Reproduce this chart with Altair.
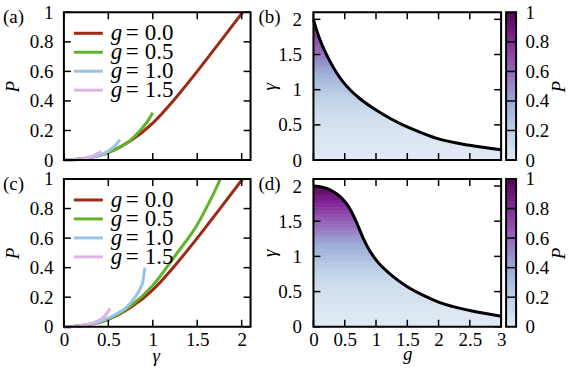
import altair as alt
import pandas as pd

FONT = "Liberation Serif"
FS = 19

# ---------------- data ----------------
gamma_ticks = [0, 0.5, 1, 1.5, 2]
p_ticks = [0, 0.2, 0.4, 0.6, 0.8, 1]
g_ticks = [0, 0.5, 1, 1.5, 2, 2.5, 3]
series = ["0.0", "0.5", "1.0", "1.5"]
series_colors = ["#9c2a16", "#62b22c", "#97c3e6", "#dcb4e3"]

# panel (a): P vs gamma
a_red_gamma = [0, 0.1, 0.25, 0.5, 0.75, 1.0, 1.25, 1.5, 1.75, 2.01]
a_red_P = [0, 0.002, 0.012, 0.05, 0.13, 0.25, 0.415, 0.60, 0.795, 1.0]
a_green_gamma = [0, 0.1, 0.25, 0.5, 0.75, 0.85, 0.95, 1.0]
a_green_P = [0, 0.002, 0.012, 0.052, 0.135, 0.195, 0.27, 0.32]
a_blue_gamma = [0, 0.1, 0.2, 0.35, 0.5, 0.58, 0.63]
a_blue_P = [0, 0.002, 0.006, 0.022, 0.062, 0.10, 0.138]
a_pink_gamma = [0, 0.15, 0.25, 0.35, 0.42]
a_pink_P = [0, 0.004, 0.015, 0.035, 0.06]

# panel (c): P vs gamma
c_red_gamma = [0, 0.1, 0.25, 0.5, 0.75, 1.0, 1.25, 1.5, 1.75, 2.01]
c_red_P = [0, 0.002, 0.012, 0.05, 0.13, 0.25, 0.415, 0.60, 0.795, 1.0]
c_green_gamma = [0, 0.1, 0.25, 0.5, 0.75, 1.0, 1.25, 1.5, 1.65, 1.76]
c_green_P = [0, 0.002, 0.012, 0.052, 0.14, 0.28, 0.48, 0.69, 0.86, 1.0]
c_blue_gamma = [0, 0.1, 0.25, 0.5, 0.6, 0.7, 0.8, 0.86, 0.89, 0.91]
c_blue_P = [0, 0.002, 0.012, 0.058, 0.09, 0.13, 0.20, 0.26, 0.31, 0.40]
c_pink_gamma = [0, 0.15, 0.3, 0.4, 0.47, 0.52]
c_pink_P = [0, 0.004, 0.02, 0.045, 0.08, 0.125]

# panel (b): boundary gamma(g)
b_bound_g = [0, 0.05, 0.1, 0.18, 0.26, 0.37, 0.47, 0.6, 0.74, 1.0, 1.25, 1.5, 1.75, 2.0, 2.5, 3.0]
b_bound_gamma = [2.0, 1.85, 1.72, 1.55, 1.41, 1.24, 1.115, 0.985, 0.875, 0.71, 0.58, 0.47, 0.38, 0.30, 0.21, 0.145]
# panel (d): boundary gamma(g)
d_bound_g = [0, 0.1, 0.2, 0.3, 0.4, 0.5, 0.6, 0.7, 0.8, 0.9, 1.0, 1.25, 1.5, 1.75, 2.0, 2.5, 3.0]
d_bound_gamma = [2.0, 1.99, 1.97, 1.93, 1.87, 1.78, 1.65, 1.46, 1.25, 1.08, 0.95, 0.73, 0.57, 0.45, 0.35, 0.23, 0.15]

# heat-map levels (lower edge of each gamma strip) and P read per strip
strip_gamma = [round(0.05 * k, 2) for k in range(42)]
b_strip_P = [0.00, 0.00, 0.01, 0.01, 0.02, 0.02, 0.03, 0.04, 0.05, 0.06,
             0.07, 0.08, 0.09, 0.11, 0.12, 0.14, 0.16, 0.18, 0.21, 0.23,
             0.26, 0.28, 0.31, 0.34, 0.37, 0.40, 0.43, 0.46, 0.50, 0.53,
             0.57, 0.60, 0.63, 0.66, 0.69, 0.72, 0.75, 0.78, 0.81, 0.84,
             0.87, 0.90]
d_strip_P = [0.00, 0.00, 0.01, 0.01, 0.02, 0.03, 0.04, 0.05, 0.06, 0.07,
             0.08, 0.10, 0.11, 0.13, 0.15, 0.17, 0.20, 0.22, 0.25, 0.28,
             0.31, 0.34, 0.37, 0.40, 0.43, 0.46, 0.50, 0.53, 0.57, 0.60,
             0.63, 0.67, 0.71, 0.75, 0.79, 0.82, 0.86, 0.89, 0.92, 0.95,
             0.97, 0.99]

cbar_levels = [k / 50 for k in range(50)]
cmap_stops = [0, 0.2, 0.4, 0.6, 0.8, 1.0]
cmap_colors = ["#dfe9f3", "#bccfe6", "#9aa9d5", "#9466b8", "#85289a", "#550052"]

# ---------------- layout ----------------
WL, WL_TOT, WR, WCB, H = 187, 245, 188, 10, 148
TL = 7  # tick length

cscale = alt.Scale(domain=cmap_stops, range=cmap_colors, interpolate="rgb")
line_scale = alt.Scale(domain=series, range=series_colors)


def txt(text, x, y, style="normal", size=FS, align="left"):
    return alt.Chart(pd.DataFrame({"t": [text]})).mark_text(
        font=FONT, fontSize=size, fontStyle=style, align=align,
        baseline="middle", color="black"
    ).encode(text="t:N", x=alt.value(x), y=alt.value(y))


def frame(W):
    return alt.Chart(pd.DataFrame({"k": [0]})).mark_rect(
        fill="white", fillOpacity=0, stroke="black", strokeWidth=2
    ).encode(x=alt.value(0), x2=alt.value(W), y=alt.value(0), y2=alt.value(H))


def ticks(xvals, yvals, xsc, ysc, axx, axy, W):
    dx = pd.DataFrame({"v": xvals})
    dy = pd.DataFrame({"v": yvals})
    r = dict(color="black", strokeWidth=1.5)
    X = alt.X("v:Q", scale=xsc, axis=axx)
    Y = alt.Y("v:Q", scale=ysc, axis=axy)
    return [
        alt.Chart(dx).mark_rule(**r).encode(x=X, y=alt.value(H), y2=alt.value(H - TL)),
        alt.Chart(dx).mark_rule(**r).encode(x=X, y=alt.value(0), y2=alt.value(TL)),
        alt.Chart(dy).mark_rule(**r).encode(y=Y, x=alt.value(0), x2=alt.value(TL)),
        alt.Chart(dy).mark_rule(**r).encode(y=Y, x=alt.value(W - TL), x2=alt.value(W)),
    ]


def curves_df(parts):
    rows = []
    for lab, xs, ys in parts:
        for i, (x, y) in enumerate(zip(xs, ys)):
            rows.append({"g": lab, "gamma": x, "P": y, "i": i})
    return pd.DataFrame(rows)


AXF = dict(labelFont=FONT, labelFontSize=FS, labelColor="black",
           titleFont=FONT, titleFontSize=FS, titleFontWeight="normal",
           titleColor="black", titleFontStyle="italic")


def left_panel(df, tag, bottom):
    xs = alt.Scale(domain=[0, 2.1], range=[0, WL], nice=False, zero=False)
    ys = alt.Scale(domain=[0, 1], nice=False, zero=False)
    if bottom:
        axx = alt.Axis(values=gamma_ticks, format="~g", ticks=False, domain=False,
                       grid=False, labelPadding=4, labelFlush=False, labelOverlap=False,
                       title="γ", titleX=92, titleY=35,
                       titleBaseline="alphabetic", titleAlign="center", **AXF)
    else:
        axx = None
    axy = alt.Axis(values=p_ticks, format="~g", ticks=False, domain=False, grid=False,
                   labelPadding=11, labelFlush=False, labelOverlap=False,
                   title="P", titleAngle=270,
                   titleX=-45, titleY=74, titleBaseline="alphabetic", titleAlign="center", **AXF)
    lines = alt.Chart(df).mark_line(strokeWidth=3, interpolate="monotone").encode(
        x=alt.X("gamma:Q", scale=xs, axis=axx),
        y=alt.Y("P:Q", scale=ys, axis=axy),
        color=alt.Color("g:N", scale=line_scale, legend=None),
        order="i:Q",
    )
    leg = alt.Chart(pd.DataFrame({"g": series, "row": [0, 1, 2, 3]})).transform_calculate(
        yp="1 - (21 + datum.row * 19) / 148"
    )
    leg_lines = leg.mark_rule(strokeWidth=3).encode(
        x=alt.value(10), x2=alt.value(39),
        y=alt.Y("yp:Q", scale=ys, axis=axy),
        color=alt.Color("g:N", scale=line_scale, legend=None),
    )
    tstyle = dict(font=FONT, fontSize=23, baseline="middle", align="left", color="black")
    leg_g = leg.mark_text(text="g", fontStyle="italic", **tstyle).encode(
        x=alt.value(47), y=alt.Y("yp:Q", scale=ys, axis=axy))
    leg_eq = leg.mark_text(text="=", **tstyle).encode(
        x=alt.value(62), y=alt.Y("yp:Q", scale=ys, axis=axy))
    leg_val = leg.mark_text(**tstyle).encode(
        x=alt.value(81), y=alt.Y("yp:Q", scale=ys, axis=axy), text="g:N")
    layers = [lines, leg_lines, leg_g, leg_eq, leg_val]
    layers += ticks(gamma_ticks, p_ticks, xs, ys, axx, axy, WL)
    layers += [frame(WL), txt(tag, -61, 5)]
    return alt.layer(*layers).properties(width=WL_TOT, height=H)


def right_panel(bg, bgam, strip_P, tag, bottom):
    xs = alt.Scale(domain=[0, 3], nice=False, zero=False)
    ys = alt.Scale(domain=[0, 2.1], nice=False, zero=False)
    if bottom:
        axx = alt.Axis(values=g_ticks, format="~g", ticks=False, domain=False,
                       grid=False, labelPadding=4, labelFlush=False, labelOverlap=False,
                       title="g", titleX=94, titleY=33,
                       titleBaseline="alphabetic", titleAlign="center", **AXF)
    else:
        axx = None
    axy = alt.Axis(values=gamma_ticks, format="~g", ticks=False, domain=False, grid=False,
                   labelPadding=12, labelFlush=False, labelOverlap=False,
                   title="γ", titleAngle=270,
                   titleX=-38, titleY=74, titleBaseline="alphabetic", titleAlign="center", **AXF)
    sdf = pd.DataFrame({"lo": strip_gamma, "P": strip_P})
    strips = alt.Chart(sdf).transform_calculate(hi="datum.lo + 0.05").mark_rect(
        strokeWidth=0.6
    ).encode(
        x=alt.value(0), x2=alt.value(WR),
        y=alt.Y("lo:Q", scale=ys, axis=axy), y2="hi:Q",
        color=alt.Color("P:Q", scale=cscale, legend=None),
        stroke=alt.Stroke("P:Q", scale=cscale, legend=None),
    )
    bdf = pd.DataFrame({"g": bg, "gamma": bgam})
    mask = alt.Chart(bdf).transform_calculate(top="2.1").mark_area(
        fill="white", stroke="white", strokeWidth=1, interpolate="monotone", opacity=1
    ).encode(
        x=alt.X("g:Q", scale=xs, axis=axx),
        y=alt.Y("gamma:Q", scale=ys, axis=axy),
        y2="top:Q",
    )
    bline = alt.Chart(bdf).mark_line(color="black", strokeWidth=3, interpolate="monotone").encode(
        x=alt.X("g:Q", scale=xs, axis=axx),
        y=alt.Y("gamma:Q", scale=ys, axis=axy),
    )
    layers = [strips, mask, bline]
    layers += ticks(g_ticks, gamma_ticks, xs, ys, axx, axy, WR)
    layers += [frame(WR), txt(tag, -55, 5)]
    return alt.layer(*layers).properties(width=WR, height=H)


def colorbar():
    ys = alt.Scale(domain=[0, 1], nice=False, zero=False)
    axy = alt.Axis(orient="right", values=p_ticks, format="~g", ticks=False, domain=False,
                   grid=False, labelPadding=9, labelFlush=False, labelOverlap=False,
                   title="P", titleAngle=270,
                   titleX=48, titleY=74, titleBaseline="alphabetic", titleAlign="center", **AXF)
    cdf = pd.DataFrame({"lo": cbar_levels})
    bars = alt.Chart(cdf).transform_calculate(
        hi="datum.lo + 0.02", mid="datum.lo + 0.01"
    ).mark_rect(strokeWidth=0.6).encode(
        x=alt.value(0), x2=alt.value(WCB),
        y=alt.Y("lo:Q", scale=ys, axis=axy), y2="hi:Q",
        color=alt.Color("mid:Q", scale=cscale, legend=None),
        stroke=alt.Stroke("mid:Q", scale=cscale, legend=None),
    )
    sep = alt.Chart(pd.DataFrame({"v": [0.2, 0.4, 0.6, 0.8]})).mark_rule(
        color="black", strokeWidth=1.5
    ).encode(y=alt.Y("v:Q", scale=ys, axis=axy), x=alt.value(0), x2=alt.value(WCB))
    return alt.layer(bars, sep, frame(WCB)).properties(width=WCB, height=H)


df_a = curves_df([
    ("0.0", a_red_gamma, a_red_P), ("0.5", a_green_gamma, a_green_P),
    ("1.0", a_blue_gamma, a_blue_P), ("1.5", a_pink_gamma, a_pink_P)])
df_c = curves_df([
    ("0.0", c_red_gamma, c_red_P), ("0.5", c_green_gamma, c_green_P),
    ("1.0", c_blue_gamma, c_blue_P), ("1.5", c_pink_gamma, c_pink_P)])

chart = alt.concat(
    left_panel(df_a, "(a)", False),
    right_panel(b_bound_g, b_bound_gamma, b_strip_P, "(b)", False),
    colorbar(),
    left_panel(df_c, "(c)", True),
    right_panel(d_bound_g, d_bound_gamma, d_strip_P, "(d)", True),
    colorbar(),
    columns=3,
    spacing={"row": 19, "column": 5},
    bounds="flush",
).properties(
    padding={"left": 2, "top": 2, "right": 0, "bottom": 0},
    background="white",
).configure_view(
    stroke="transparent"
)

chart.save("out.html", embed_options={"renderer": "svg", "actions": False})
